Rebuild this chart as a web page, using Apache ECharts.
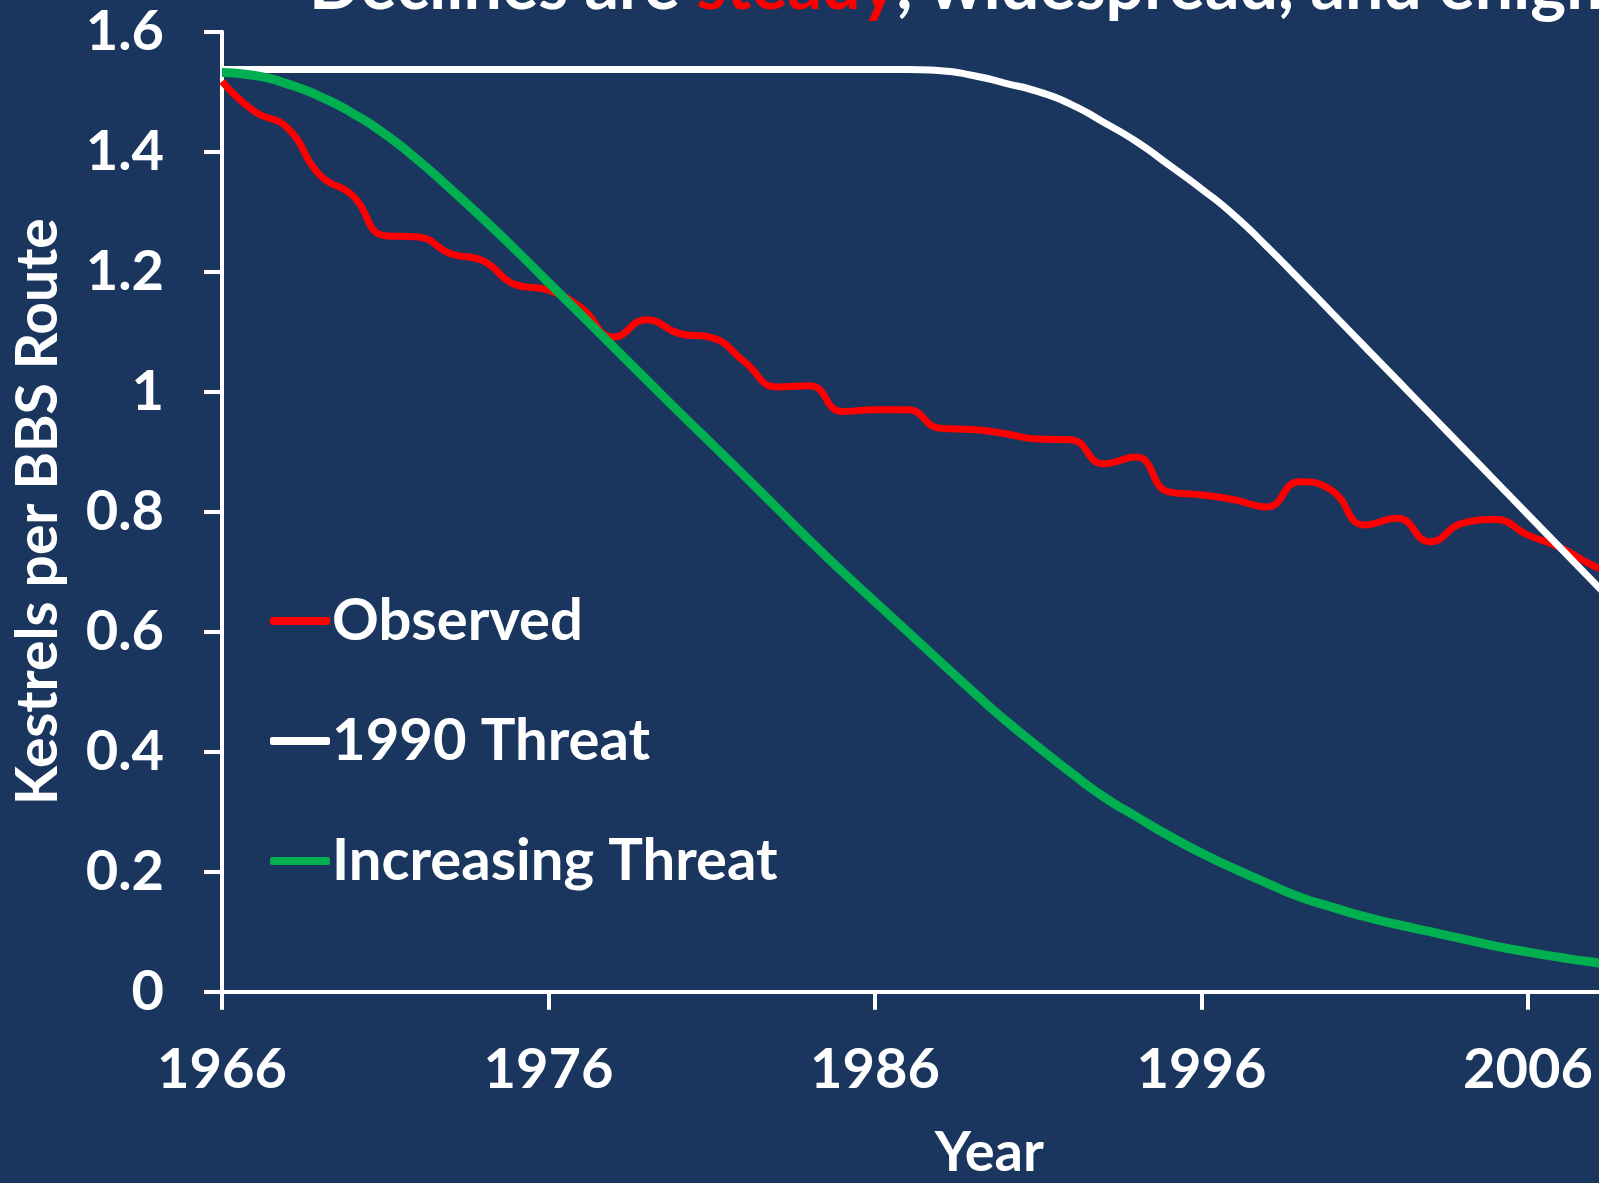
<!DOCTYPE html>
<html>
<head>
<meta charset="utf-8">
<script src="https://cdn.jsdelivr.net/npm/echarts@6/dist/echarts.min.js"></script>
<style>
  html, body { margin: 0; padding: 0; background: #1A365E; }
  #chart { width: 1599px; height: 1183px; }
</style>
</head>
<body>
<div id="chart"></div>
<script>
// years on the category axis (axis runs past the slide edge)
var years = ['1966','1967','1968','1969','1970','1971','1972','1973','1974','1975',
  '1976','1977','1978','1979','1980','1981','1982','1983','1984','1985',
  '1986','1987','1988','1989','1990','1991','1992','1993','1994','1995',
  '1996','1997','1998','1999','2000','2001','2002','2003','2004','2005',
  '2006','2007','2008','2009','2010','2011','2012','2013'];

var legendNames = ['Observed', '1990 Threat', 'Increasing Threat'];

var observed = [1.517, 1.467, 1.440, 1.361, 1.327, 1.260, 1.258, 1.230, 1.218, 1.178,
  1.169, 1.140, 1.091, 1.120, 1.097, 1.090, 1.050, 1.008, 1.010, 0.967,
  0.970, 0.970, 0.939, 0.937, 0.930, 0.921, 0.920, 0.880, 0.891, 0.833,
  0.828, 0.820, 0.808, 0.850, 0.835, 0.778, 0.789, 0.750, 0.781, 0.787,
  0.761, 0.740, 0.710, 0.690];

var threat1990 = [1.537, 1.537, 1.537, 1.537, 1.537, 1.537, 1.537, 1.537, 1.537, 1.537,
  1.537, 1.537, 1.537, 1.537, 1.537, 1.537, 1.537, 1.537, 1.537, 1.537,
  1.537, 1.537, 1.535, 1.527, 1.514, 1.500, 1.479, 1.449, 1.417, 1.378,
  1.338, 1.294, 1.242, 1.187, 1.131, 1.075, 1.019, 0.963, 0.907, 0.851,
  0.795, 0.739, 0.683, 0.627];

var increasing = [1.532, 1.527, 1.513, 1.492, 1.464, 1.429, 1.386, 1.338, 1.288, 1.236,
  1.182, 1.128, 1.074, 1.020, 0.966, 0.913, 0.860, 0.806, 0.752, 0.700,
  0.650, 0.600, 0.550, 0.500, 0.452, 0.408, 0.365, 0.325, 0.292, 0.260,
  0.231, 0.205, 0.181, 0.158, 0.141, 0.125, 0.112, 0.100, 0.088, 0.076,
  0.066, 0.057, 0.049, 0.042];

var chart = echarts.init(document.getElementById('chart'));
var font = 'Lato';
var labelStyle = {
  color: '#FFFFFF',
  fontFamily: font,
  fontWeight: 'bold',
  fontSize: 56
};

var option = {
  backgroundColor: '#1A365E',
  animation: false,
  graphic: [{
    type: 'text',
    left: 309,
    top: -47,
    style: {
      text: '{w|Declines are }{r|steady}{w|, widespread, and enigmatic}',
      rich: {
        w: { fill: '#FFFFFF', fontFamily: font, fontWeight: 'bold', fontSize: 68 },
        r: { fill: '#FF0000', fontFamily: font, fontWeight: 'bold', fontSize: 68 }
      }
    }
  }],
  legend: {
    data: legendNames,
    orient: 'vertical',
    left: 270,
    top: 591,
    padding: 0,
    itemWidth: 60,
    itemHeight: 8,
    itemGap: 60,
    icon: 'roundRect',
    selectedMode: false,
    textStyle: {
      color: '#FFFFFF',
      fontFamily: font,
      fontWeight: 'bold',
      fontSize: 58,
      lineHeight: 60,
      padding: [0, 0, 0, -3]
    }
  },
  grid: {
    left: 222,
    top: 31.7,
    height: 960,
    width: 1534.6,
    outerBoundsMode: 'none',
    containLabel: false
  },
  xAxis: {
    type: 'category',
    data: years,
    boundaryGap: false,
    name: 'Year',
    nameLocation: 'middle',
    nameGap: 133,
    nameTextStyle: labelStyle,
    axisLine: { lineStyle: { color: '#FFFFFF', width: 4 } },
    axisTick: { interval: 9, length: 18, lineStyle: { color: '#FFFFFF', width: 4 } },
    axisLabel: Object.assign({ interval: 9, margin: 50 }, labelStyle),
    splitLine: { show: false }
  },
  yAxis: {
    type: 'value',
    min: 0,
    max: 1.6,
    interval: 0.2,
    name: 'Kestrels per BBS Route',
    nameLocation: 'middle',
    nameGap: 155,
    nameTextStyle: Object.assign({}, labelStyle, { fontSize: 57 }),
    axisLine: { show: true, lineStyle: { color: '#FFFFFF', width: 4 } },
    axisTick: { show: true, length: 18, lineStyle: { color: '#FFFFFF', width: 4 } },
    axisLabel: Object.assign({ margin: 58 }, labelStyle),
    splitLine: { show: false }
  },
  series: [
    {
      name: 'Observed',
      type: 'line',
      smooth: 0.5,
      showSymbol: false,
      symbol: 'none',
      data: observed,
      itemStyle: { color: '#FF0000' },
      lineStyle: { color: '#FF0000', width: 7 }
    },
    {
      name: '1990 Threat',
      type: 'line',
      smooth: 0.6,
      showSymbol: false,
      symbol: 'none',
      data: threat1990,
      itemStyle: { color: '#FFFFFF' },
      lineStyle: { color: '#FFFFFF', width: 7 }
    },
    {
      name: 'Increasing Threat',
      type: 'line',
      smooth: 0.6,
      showSymbol: false,
      symbol: 'none',
      data: increasing,
      itemStyle: { color: '#00B050' },
      lineStyle: { color: '#00B050', width: 9 }
    }
  ]
};
chart.setOption(option);
</script>
</body>
</html>
